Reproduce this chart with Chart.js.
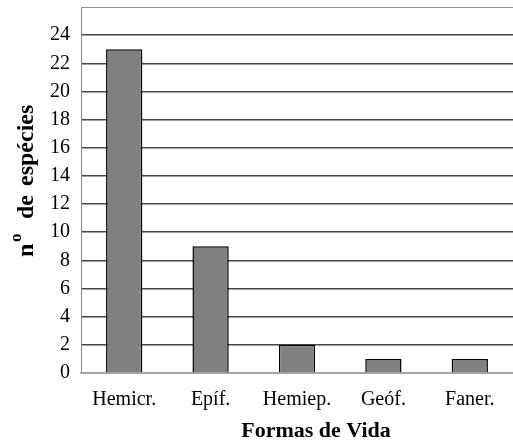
<!DOCTYPE html>
<html>
<head>
<meta charset="utf-8">
<script src="https://cdn.jsdelivr.net/npm/chart.js@4"></script>
<style>
  html, body { margin: 0; padding: 0; background: #fff; }
  #wrap { width: 513px; height: 440px; }
</style>
</head>
<body>
<div id="wrap"><canvas id="grafico" width="513" height="440"></canvas></div>
<script>
const formas = ['Hemicr.', 'Epíf.', 'Hemiep.', 'Geóf.', 'Faner.'];
const especies = [23, 9, 2, 1, 1];
const yMax = 26;
const yStep = 2;
const tituloX = 'Formas de Vida';

const FONTE = "'Liberation Serif', 'Times New Roman', serif";

// titulos dos eixos desenhados à mão (o "o" do eixo y vai sobrescrito)
const titulos = {
  id: 'titulos',
  afterDraw(chart) {
    const ctx = chart.ctx;
    const a = chart.chartArea;
    ctx.save();
    ctx.fillStyle = '#000';
    ctx.textBaseline = 'alphabetic';

    // eixo x
    ctx.font = 'bold 22px ' + FONTE;
    ctx.textAlign = 'center';
    ctx.fillText(tituloX, 316, 437);

    // eixo y: n, o sobrescrito, de, espécies
    ctx.textAlign = 'left';
    ctx.translate(33, 257);
    ctx.rotate(-Math.PI / 2);
    const big = 'bold 24px ' + FONTE;
    const small = 'bold 17px ' + FONTE;
    ctx.font = big;
    ctx.fillText('n', 0, 0);
    ctx.font = small;
    ctx.fillText('o', 15, -12);
    ctx.font = big;
    ctx.fillText('de', 38, 0);
    ctx.fillText('espécies', 71, 0);
    ctx.restore();

    // linha de cima da caixa
    ctx.save();
    ctx.strokeStyle = '#8c8c8c';
    ctx.lineWidth = 1;
    ctx.beginPath();
    ctx.moveTo(a.left, a.top + 0.5);
    ctx.lineTo(a.right, a.top + 0.5);
    ctx.stroke();
    ctx.restore();
  }
};

new Chart(document.getElementById('grafico'), {
  type: 'bar',
  data: {
    labels: formas,
    datasets: [{
      data: especies,
      backgroundColor: '#808080',
      borderColor: '#000000',
      borderWidth: 1.5,
      barPercentage: 0.42,
      categoryPercentage: 1
    }]
  },
  options: {
    responsive: false,
    animation: false,
    layout: { padding: { left: 0, right: 0, top: 7, bottom: 0 } },
    plugins: {
      legend: { display: false },
      tooltip: { enabled: false }
    },
    scales: {
      x: {
        grid: { display: false, drawTicks: false },
        border: { display: true, color: '#a6a6a6', width: 1.5 },
        ticks: {
          color: '#000',
          font: { family: FONTE, size: 20 },
          padding: 15
        },
        afterFit(scale) { scale.height = 67; }
      },
      y: {
        min: 0,
        max: yMax,
        grid: {
          color: '#444444',
          lineWidth: 1.5,
          drawTicks: true,
          tickLength: 11,
          tickColor: 'rgba(0,0,0,0)'
        },
        border: { display: true, color: '#8c8c8c', width: 1 },
        ticks: {
          stepSize: yStep,
          color: '#000',
          font: { family: FONTE, size: 20, lineHeight: 0.6 },
          padding: 0
        },
        afterBuildTicks(scale) {
          scale.ticks = scale.ticks.filter(t => t.value < yMax);
        },
        afterFit(scale) { scale.width = 81; }
      }
    }
  },
  plugins: [titulos]
});
</script>
</body>
</html>
